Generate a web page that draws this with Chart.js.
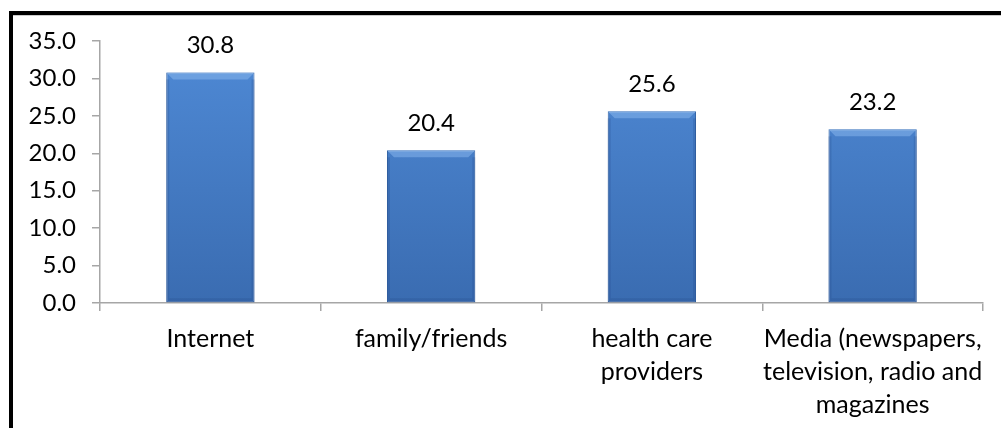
<!DOCTYPE html>
<html>
<head>
<meta charset="utf-8">
<script src="https://cdn.jsdelivr.net/npm/chart.js@4.4.0/dist/chart.umd.min.js"></script>
<style>
  html, body { margin: 0; padding: 0; background: #fff; }
  #wrap { position: relative; width: 1001px; height: 428px; overflow: hidden; }
  #frame { position: absolute; left: 9px; top: 11px; width: 1100px; height: 500px;
           border-left: 4px solid #000; border-top: 4px solid #000; }
  #frame::after { content: ''; position: absolute; left: 0; top: 0; right: 0; height: 1px; background: #ccc; }
  canvas { position: absolute; left: 0; top: 0; }
</style>
</head>
<body>
<div id="wrap">
  <div id="frame"></div>
  <canvas id="chart" width="1001" height="428"></canvas>
</div>
<script>
// categories and values
const categories = [
  'Internet',
  'family/friends',
  ['health care', 'providers'],
  ['Media (newspapers,', 'television, radio and', 'magazines']
];
const values = [30.8, 20.4, 25.6, 23.2];
const yMax = 35;
const yStep = 5;

const FONT = "Lato, 'Open Sans', sans-serif";
const axisGrey = '#a6a6a6';

// value labels above bars + a light bevel on top of each bar
const barDecor = {
  id: 'barDecor',
  afterDatasetsDraw(chart) {
    const ctx = chart.ctx;
    const meta = chart.getDatasetMeta(0);
    ctx.save();
    meta.data.forEach((bar, i) => {
      const { x, y, width, base } = bar.getProps(['x', 'y', 'width', 'base'], true);
      const l = x - width / 2, r = x + width / 2, b = 7;
      // top bevel
      ctx.fillStyle = 'rgba(140,185,240,0.5)';
      ctx.beginPath();
      ctx.moveTo(l, y); ctx.lineTo(r, y); ctx.lineTo(r - b, y + b); ctx.lineTo(l + b, y + b);
      ctx.closePath(); ctx.fill();
      // side shading
      ctx.fillStyle = 'rgba(30,70,130,0.22)';
      ctx.fillRect(l, y + b, 3, base - y - b);
      ctx.fillRect(r - 3, y + b, 3, base - y - b);
      ctx.fillRect(l + 3, base - 4, width - 6, 4);
      // label
      ctx.fillStyle = '#000';
      ctx.font = '24px ' + FONT;
      ctx.textAlign = 'center';
      ctx.textBaseline = 'middle';
      ctx.fillText(values[i].toFixed(1), x, y - 27);
    });
    ctx.restore();
  }
};

new Chart(document.getElementById('chart'), {
  type: 'bar',
  data: {
    labels: categories,
    datasets: [{
      data: values,
      backgroundColor: (c) => {
        const area = c.chart.chartArea;
        if (!area) return '#4679c0';
        const g = c.chart.ctx.createLinearGradient(0, area.top, 0, area.bottom);
        g.addColorStop(0, '#4f8ad6');
        g.addColorStop(1, '#3a6cb1');
        return g;
      },
      borderColor: '#3565a6',
      borderWidth: 1,
      borderSkipped: false,
      categoryPercentage: 1,
      barPercentage: 0.4
    }]
  },
  options: {
    responsive: false,
    animation: false,
    layout: { padding: { left: 0, right: 18, top: 41, bottom: 0 } },
    plugins: { legend: { display: false }, tooltip: { enabled: false } },
    scales: {
      y: {
        min: 0, max: yMax,
        afterFit: (s) => { s.width = 100; },
        ticks: {
          stepSize: yStep,
          padding: 16,
          color: '#000',
          font: { family: FONT, size: 24 },
          callback: (v) => v.toFixed(1)
        },
        grid: { drawOnChartArea: false, color: axisGrey, tickLength: 8, lineWidth: 1.5 },
        border: { color: axisGrey, width: 1.5 }
      },
      x: {
        afterFit: (s) => { s.height = 125; },
        ticks: {
          padding: 11,
          color: '#000',
          maxRotation: 0,
          autoSkip: false,
          font: { family: FONT, size: 25, lineHeight: 1.33 }
        },
        grid: { offset: true, drawOnChartArea: false, color: axisGrey, tickLength: 8, lineWidth: 1.5 },
        border: { color: axisGrey, width: 1.5 }
      }
    }
  },
  plugins: [barDecor]
});
</script>
</body>
</html>
